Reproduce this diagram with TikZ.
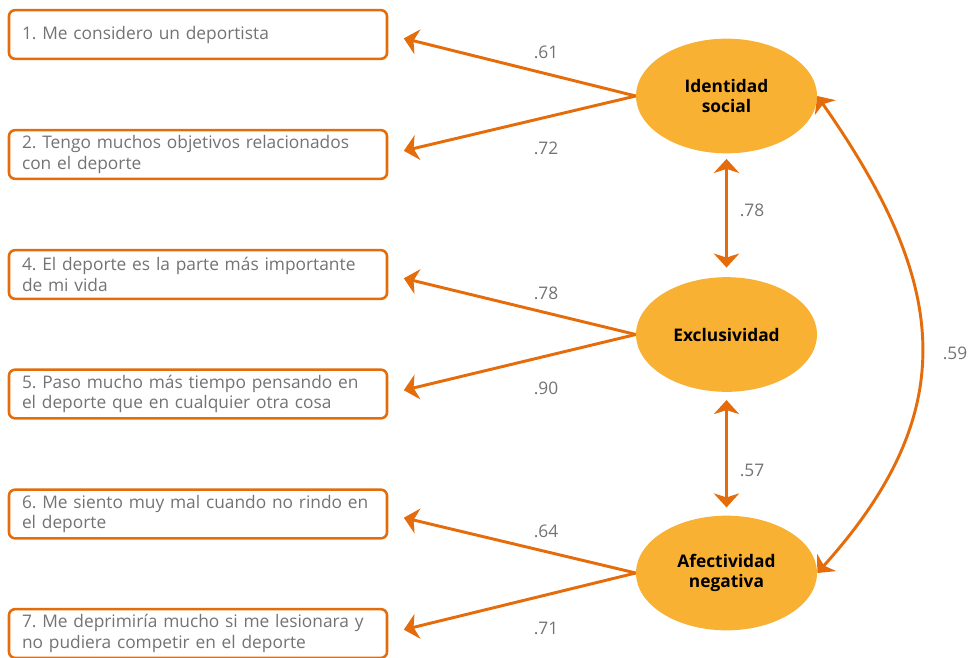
\documentclass[tikz,border=0pt]{standalone}
\usepackage{fontspec}
\setmainfont{Open Sans}
\usetikzlibrary{arrows.meta,shapes.geometric}
\definecolor{naranja}{HTML}{E46C0A}
\definecolor{relleno}{HTML}{F8B133}
\definecolor{gris}{HTML}{737373}
\frenchspacing

\begin{document}
\begin{tikzpicture}[x=0.75pt,y=0.75pt]
\tikzstyle{every node}+=[inner sep=0pt, font=\fontsize{13}{15.2}\selectfont]
\tikzstyle{item}=[draw=naranja, line width=1.9pt, rounded corners=4.5pt, minimum width=283.5pt, minimum height=36.5pt, text width=264pt, align=left, text=gris]
\tikzstyle{factor}=[ellipse, fill=relleno, minimum width=135.75pt, minimum height=86pt, align=center, font=\fontsize{13}{15.2}\selectfont\bfseries]
\tikzstyle{carga}=[naranja, line width=2.2pt, -{Stealth[length=10.5pt,width=19pt,inset=3pt]}, shorten >=12pt]
\tikzstyle{cov}=[naranja, line width=2.2pt, {Stealth[length=10.5pt,width=19pt,inset=3pt]}-{Stealth[length=10.5pt,width=19pt,inset=3pt]}]
\tikzstyle{peso}=[text=gris]
\useasboundingbox (0,0) rectangle (973,-657);
\node [item] (i1) at (198,-34.5) {1. Me considero un deportista};
\node [item] (i2) at (198,-154.5) {2. Tengo muchos objetivos relacionados\\con el deporte};
\node [item] (i4) at (198,-274.5) {4. El deporte es la parte más importante\\de mi vida};
\node [item] (i5) at (198,-394) {5. Paso mucho más tiempo pensando en\\el deporte que en cualquier otra cosa};
\node [item] (i6) at (198,-514) {6. Me siento muy mal cuando no rindo en\\el deporte};
\node [item] (i7) at (198,-633.5) {7. Me deprimiría mucho si me lesionara y\\no pudiera competir en el deporte};
\node [factor] (id) at (726.5,-96) {Identidad\\social};
\node [factor] (ex) at (726.5,-334.5) {Exclusividad};
\node [factor] (af) at (726.5,-573) {Afectividad\\negativa};
\draw [carga] (id.west) -- (i1.east);
\draw [carga] (id.west) -- (i2.east);
\draw [carga] (ex.west) -- (i4.east);
\draw [carga] (ex.west) -- (i5.east);
\draw [carga] (af.west) -- (i6.east);
\draw [carga] (af.west) -- (i7.east);
\draw [cov, shorten <=4pt, shorten >=7pt] (id.south) -- (ex.north);
\draw [cov, shorten <=6pt, shorten >=6pt] (ex.south) -- (af.north);
\draw [cov] (id.east) to [out=-55, in=48, looseness=1.2] (af.east);
\node [peso] (w1) at (546,-52) {.61};
\node [peso] (w2) at (546,-148) {.72};
\node [peso] (w4) at (546,-293) {.78};
\node [peso] (w5) at (546,-388) {.90};
\node [peso] (w6) at (546,-531) {.64};
\node [peso] (w7) at (546,-628) {.71};
\node [peso] (c1) at (752,-210) {.78};
\node [peso] (c2) at (752,-470) {.57};
\node [peso] (c3) at (955,-353) {.59};
\end{tikzpicture}
\end{document}
